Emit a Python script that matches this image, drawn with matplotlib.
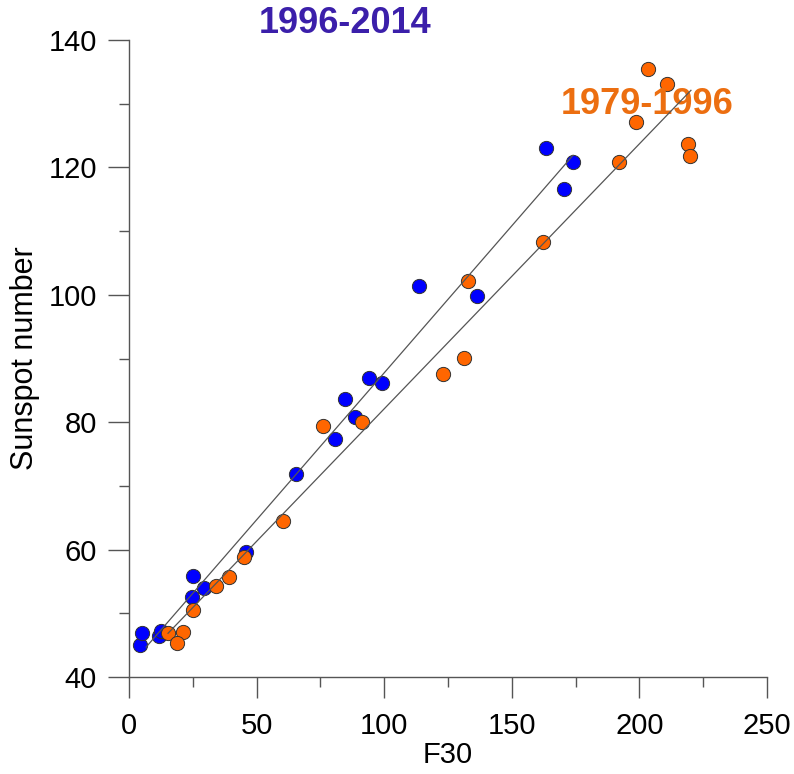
import numpy as np
import matplotlib
matplotlib.use("Agg")
import matplotlib.pyplot as plt
from matplotlib.ticker import MultipleLocator

plt.rcParams['font.family'] = ['Liberation Sans', 'DejaVu Sans']

# 1996-2014 (blue)
f30_b = [4.3, 5.1, 11.9, 12.7, 25.0, 24.8, 29.3, 45.8, 65.3, 80.8, 88.6, 84.6,
         94.2, 99.3, 113.6, 136.4, 163.4, 173.9, 170.5]
ssn_b = [45.0, 46.9, 46.4, 47.2, 55.9, 52.6, 53.9, 59.6, 71.9, 77.3, 80.8, 83.6,
         86.9, 86.1, 101.4, 99.8, 123.0, 120.8, 116.6]

# 1979-1996 (orange)
f30_o = [15.4, 21.0, 18.7, 25.2, 34.1, 39.3, 45.1, 60.5, 76.0, 91.2, 133.0, 131.3,
         123.2, 162.3, 203.4, 210.8, 198.8, 191.9, 219.0, 219.9]
ssn_o = [46.9, 47.1, 45.4, 50.5, 54.3, 55.7, 58.9, 64.5, 79.4, 80.1, 102.2, 90.1,
         87.5, 108.3, 135.4, 133.1, 127.2, 120.8, 123.7, 121.8]

# fitted lines: slope, intercept, x-range
fit_b = [0.4615, 41.6, 6.7, 174.0]
fit_o = [0.416, 40.5, 15.3, 220.2]

label_b = "1996-2014"
label_o = "1979-1996"

fig = plt.figure(figsize=(7.94, 7.74), dpi=100)
ax = fig.add_axes([129 / 794, 1 - 677 / 774, 638 / 794, 637 / 774])

ax.scatter(f30_b, ssn_b, s=105, c='#0000ff', edgecolors='#333333', linewidths=0.7, zorder=2)
ax.scatter(f30_o, ssn_o, s=105, c='#ff6600', edgecolors='#333333', linewidths=0.7, zorder=2)

# regression lines drawn over the points and the labels
for k, b, x0, x1 in [fit_b, fit_o]:
    xx = np.array([x0, x1])
    ax.plot(xx, k * xx + b, color='#555555', lw=0.9, zorder=5)

ax.set_xlim(0, 250)
ax.set_ylim(40, 140)
ax.xaxis.set_major_locator(MultipleLocator(50))
ax.xaxis.set_minor_locator(MultipleLocator(25))
ax.yaxis.set_major_locator(MultipleLocator(20))
ax.yaxis.set_minor_locator(MultipleLocator(10))

for s in ['top', 'right']:
    ax.spines[s].set_visible(False)
for s in ['left', 'bottom']:
    ax.spines[s].set_color('#555555')
    ax.spines[s].set_linewidth(1.0)

ax.tick_params(which='major', direction='out', length=15, width=1.0, color='#555555',
               labelsize=21, pad=8)
ax.tick_params(which='minor', direction='out', length=7.5, width=1.0, color='#555555')
ax.tick_params(axis='x', which='major', pad=10)

ax.set_xlabel("F30", fontsize=21, labelpad=1)
ax.set_ylabel("Sunspot number", fontsize=22, labelpad=6)

ax.text(84.8, 142.6, label_b, color='#3b1faa', fontsize=26, fontweight='bold',
        ha='center', va='center', clip_on=False, zorder=3)
ax.text(203, 129.9, label_o, color='#ec6e10', fontsize=26, fontweight='bold',
        ha='center', va='center', clip_on=False, zorder=3)

fig.savefig("out.png", dpi=100)
